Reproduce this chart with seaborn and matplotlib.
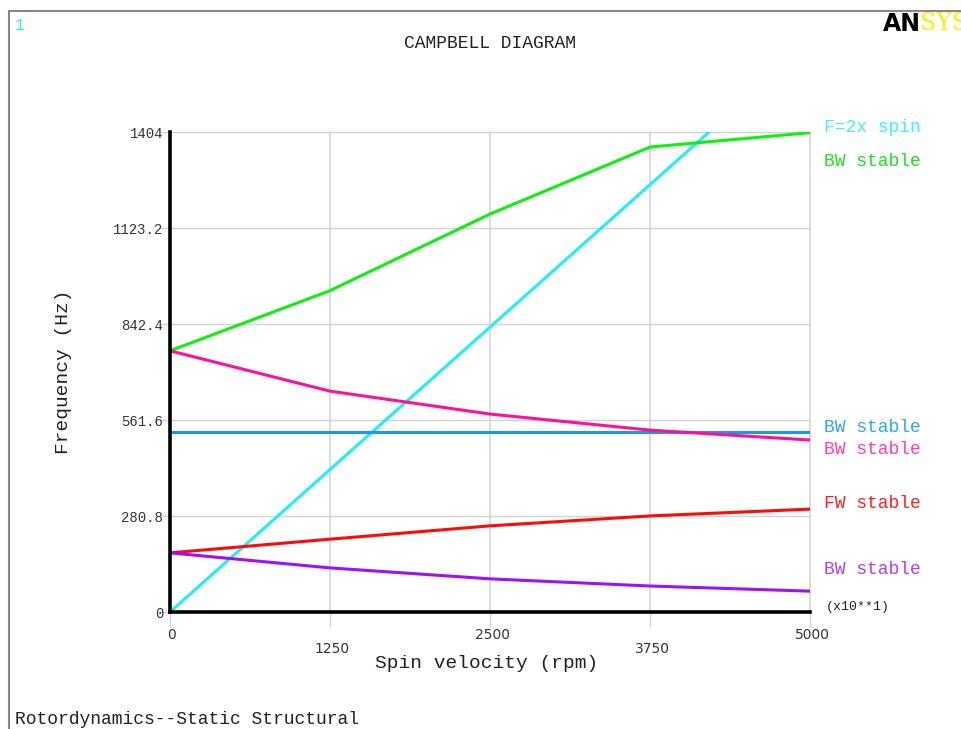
import matplotlib
matplotlib.use("Agg")
import matplotlib.pyplot as plt
from matplotlib.lines import Line2D
import numpy as np
import pandas as pd
import seaborn as sns

# Spin velocity samples (x10 rpm) and whirl frequencies (Hz) per mode
spin = [0, 1250, 2500, 3750, 5000]
mode_green = [764, 940, 1164, 1360, 1402]
mode_magenta = [764, 646, 579, 532, 503]
mode_blue = [526, 526, 526, 526, 526]
mode_red = [173, 213, 252, 281, 301]
mode_purple = [173, 129, 97, 76, 61]
spin_2x = [0, 416.7, 833.3, 1250, 1666.7]

series_names = ["F=2x spin", "BW stable (1)", "BW stable (2)", "BW stable (3)",
                "FW stable", "BW stable (4)"]
series_values = [spin_2x, mode_green, mode_blue, mode_magenta, mode_red, mode_purple]
line_colors = ["#22eef8", "#10f010", "#1a9ae6", "#ff109a", "#ff0a0a", "#a010f8"]
label_colors = ["#40f0ff", "#20e020", "#30a8f0", "#ff40b0", "#ff2020", "#b040f8"]
label_texts = ["F=2x spin", "BW stable", "BW stable", "BW stable", "FW stable", "BW stable"]
label_ypix = [127, 162, 427, 450, 503, 570]

y_ticks = [0, 280.8, 561.6, 842.4, 1123.2, 1404]
y_tick_labels = ["0", "280.8", "561.6", "842.4", "1123.2", "1404"]
x_ticks = [0, 1250, 2500, 3750, 5000]
x_tick_labels = ["0", "1250", "2500", "3750", "5000"]

df = pd.DataFrame({
    "spin": np.tile(spin, len(series_names)),
    "freq": np.concatenate(series_values),
    "mode": np.repeat(series_names, len(spin)),
})

sns.set_style("white")
mono = ["Liberation Mono", "DejaVu Sans Mono"]
plt.rcParams["font.family"] = mono

W, H = 961, 729
fig = plt.figure(figsize=(W / 100, H / 100), dpi=100)
ax = fig.add_axes([170 / W, 1 - 612 / H, 640 / W, 480 / H])

# Grid lines drawn first, beneath the curves
for yv in y_ticks[1:]:
    ax.axhline(yv, color="#d4d4d4", lw=1, zorder=0, clip_on=False)
for xv in x_ticks[1:]:
    ax.axvline(xv, color="#d4d4d4", lw=1.2, zorder=0, clip_on=False)

sns.lineplot(data=df, x="spin", y="freq", hue="mode", hue_order=series_names,
             palette=dict(zip(series_names, line_colors)), lw=2.2,
             legend=False, ax=ax, zorder=3)

ax.set_xlim(0, 5000)
ax.set_ylim(0, 1404)
ax.set_xlabel("")
ax.set_ylabel("")

for s in ["top", "right"]:
    ax.spines[s].set_visible(False)
for s in ["left", "bottom"]:
    ax.spines[s].set_color("black")
    ax.spines[s].set_linewidth(2.6)
    ax.spines[s].set_zorder(4)

ax.set_yticks(y_ticks)
ax.set_yticklabels(y_tick_labels, fontsize=10, color="#333333")
ax.tick_params(axis="y", length=7, width=1, color="#d4d4d4", pad=-2, left=True)
ax.set_xticks(x_ticks)
ax.set_xticklabels([])
ax.tick_params(axis="x", length=11, width=1, color="#d4d4d4", bottom=True)

# Staggered spin tick labels
for i, (xv, lab) in enumerate(zip(x_ticks, x_tick_labels)):
    ypix = 635 if i % 2 == 0 else 649
    fig.text((172 + xv / 5000 * 640) / W, 1 - ypix / H, lab, fontsize=10,
             color="#333333", ha="center", va="center",
             family=["DejaVu Sans"])

fig.text(487 / W, 1 - 664 / H, "Spin velocity (rpm)", fontsize=14,
         color="#222222", ha="center", va="center")
fig.text(63 / W, 1 - 372 / H, "Frequency (Hz)", fontsize=14,
         color="#222222", ha="center", va="center", rotation=90)
fig.text(490 / W, 1 - 44 / H, "CAMPBELL DIAGRAM", fontsize=13,
         color="#222222", ha="center", va="center")
fig.text(826 / W, 1 - 607 / H, "(x10**1)", fontsize=9.5,
         color="#222222", ha="left", va="center")
fig.text(15 / W, 1 - 719 / H, "Rotordynamics--Static Structural", fontsize=13,
         color="#222222", ha="left", va="center")
fig.text(15 / W, 1 - 25 / H, "1", fontsize=12, color="#30e8f0",
         ha="left", va="center")

for txt, col, yp in zip(label_texts, label_colors, label_ypix):
    fig.text(824 / W, 1 - yp / H, txt, fontsize=13, color=col,
             ha="left", va="center")

# Logo in the top-right corner
fig.text(883 / W, 1 - 24 / H, "AN", fontsize=17, fontweight="bold",
         color="black", ha="left", va="center", family=["DejaVu Sans"])
fig.text(920 / W, 1 - 24 / H, "SYS", fontsize=17, color="#ffee00",
         ha="left", va="center", family=["DejaVu Serif"])

# Window frame
fig.add_artist(Line2D([9 / W, 1], [1 - 11 / H, 1 - 11 / H], color="#888888",
                      lw=1.5, transform=fig.transFigure))
fig.add_artist(Line2D([9 / W, 9 / W], [0, 1 - 11 / H], color="#888888",
                      lw=1.5, transform=fig.transFigure))

fig.savefig("out.png", dpi=100)
